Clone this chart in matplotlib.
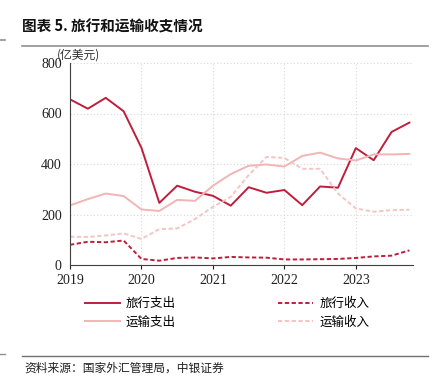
import numpy as np
import matplotlib.pyplot as plt
from matplotlib.lines import Line2D

plt.rcParams['font.family'] = ['Liberation Serif', 'Noto Sans CJK SC', 'DejaVu Sans']

# quarterly data, 2019Q1 - 2023Q4 (亿美元)
years = [2019, 2020, 2021, 2022, 2023]
quarters = np.arange(20)
travel_exp = [656, 619, 662, 609, 464, 246, 314, 290, 274, 235,
              308, 286, 297, 237, 311, 306, 463, 415, 527, 564]
travel_inc = [80, 92, 90, 97, 24, 17, 28, 30, 26, 32,
              30, 29, 22, 22, 23, 24, 28, 34, 37, 58]
transport_exp = [236, 261, 283, 273, 220, 214, 258, 254, 314, 360,
                 393, 398, 390, 432, 445, 422, 414, 438, 438, 440]
transport_inc = [112, 111, 117, 125, 103, 142, 145, 182, 230, 270,
                 356, 428, 424, 381, 381, 283, 224, 211, 217, 219]

dark = '#BE1E3C'
light = '#F2B4B4'
light_dash = '#F5C4C4'

fig = plt.figure(figsize=(4.41, 3.83), dpi=100)
ax = fig.add_axes([70 / 441, 1 - 265 / 383, 343 / 441, 202 / 383])

x = 2019 + quarters / 4
ax.plot(x, travel_exp, color=dark, lw=1.4)
ax.plot(x, transport_exp, color=light, lw=1.4)
ax.plot(x, travel_inc, color=dark, lw=1.4, ls=(0, (2.2, 1.3)))
ax.plot(x, transport_inc, color=light_dash, lw=1.4, ls=(0, (2.2, 1.3)))

ax.set_xlim(2019, 2023.8)
ax.set_ylim(0, 800)
ax.set_xticks(years)
ax.set_yticks([0, 200, 400, 600, 800])
ax.grid(True, color='#D8D8D8', ls=(0, (1, 2)), lw=0.8)
for s in ['top', 'right']:
    ax.spines[s].set_visible(False)
for s in ['left', 'bottom']:
    ax.spines[s].set_color('#404040')
    ax.spines[s].set_linewidth(0.8)
ax.tick_params(labelsize=10, colors='#202020', length=3, width=0.8)
ax.tick_params(axis='y', length=0, pad=6)

fig.text(57 / 441, 1 - 55 / 383, '(亿美元)', fontsize=8.5, color='#303030',
         family=['Noto Sans CJK SC'], va='center')

# legend
handles = [Line2D([], [], color=dark, lw=1.4),
           Line2D([], [], color=light, lw=1.4),
           Line2D([], [], color=dark, lw=1.4, ls=(0, (2.2, 1.3))),
           Line2D([], [], color=light_dash, lw=1.4, ls=(0, (2.2, 1.3)))]
labels = ['旅行支出', '运输支出', '旅行收入', '运输收入']
fig.legend(handles, labels, ncol=2, loc='center', bbox_to_anchor=(0.515, 1 - 313 / 383),
           frameon=False, prop={'family': 'Noto Sans CJK SC', 'size': 9},
           handlelength=2.8, handletextpad=0.5, columnspacing=8.2, labelspacing=0.45)

# title and source
fig.text(22 / 441, 1 - 27 / 383, '图表 5. 旅行和运输收支情况', fontsize=10.5,
         fontweight='bold', family=['Noto Sans CJK SC'], va='center', color='#111111')
fig.add_artist(Line2D([22 / 441, 428 / 441], [1 - 46 / 383] * 2, color='#909090', lw=1.2))
fig.add_artist(Line2D([0, 5 / 441], [1 - 40 / 383] * 2, color='#909090', lw=1.2))
fig.add_artist(Line2D([22 / 441, 428 / 441], [1 - 356 / 383] * 2, color='#707070', lw=1.0))
fig.add_artist(Line2D([0, 5 / 441], [1 - 354 / 383] * 2, color='#909090', lw=1.0))
fig.text(24 / 441, 1 - 368 / 383, '资料来源：国家外汇管理局，中银证券', fontsize=8.5,
         family=['Noto Sans CJK SC'], va='center', color='#202020', style='italic')

fig.savefig('out.png', dpi=100)
